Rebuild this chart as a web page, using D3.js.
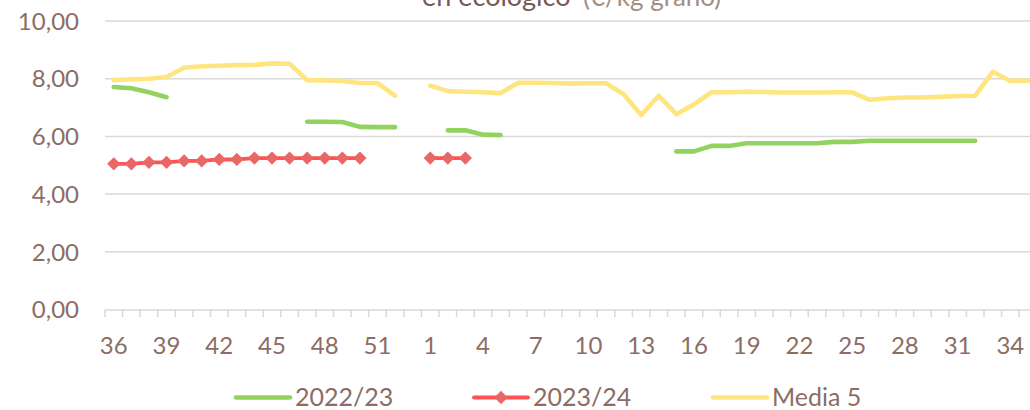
<!DOCTYPE html>
<html>
<head>
<meta charset="utf-8">
<script src="https://cdn.jsdelivr.net/npm/d3@7/dist/d3.min.js"></script>
<style>
  html, body { margin: 0; padding: 0; background: #fff; }
  svg { display: block; }
  text { font-family: Lato, "Open Sans", sans-serif; }
</style>
</head>
<body>
<svg id="chart" width="1030" height="410"></svg>
<script>
// Campaign weeks (36 → 53, then 1 → 35)
const weeks = [36,37,38,39,40,41,42,43,44,45,46,47,48,49,50,51,52,53,
  1,2,3,4,5,6,7,8,9,10,11,12,13,14,15,16,17,18,19,20,21,22,23,24,25,26,27,28,29,30,31,32,33,34,35];

// Price €/kg, one value per week; null = no quotation
const serie2223 = [7.71,7.67,7.53,7.36,null,null,null,null,null,null,null,6.51,6.51,6.50,6.33,6.32,6.32,null,
  null,6.21,6.21,6.06,6.05,null,null,null,null,null,null,null,null,null,5.48,5.48,5.67,5.67,5.76,5.76,5.76,5.76,5.76,5.81,5.81,5.85,5.85,5.85,5.85,5.85,5.85,5.85,null,null,null];

const serie2324 = [5.05,5.05,5.10,5.10,5.15,5.15,5.20,5.20,5.25,5.25,5.25,5.25,5.25,5.25,5.25,null,null,null,
  5.25,5.25,5.25,null,null,null,null,null,null,null,null,null,null,null,null,null,null,null,null,null,null,null,null,null,null,null,null,null,null,null,null,null,null,null,null];

const media5 = [7.95,7.98,8.00,8.06,8.38,8.43,8.45,8.47,8.48,8.53,8.52,7.95,7.94,7.92,7.85,7.85,7.41,null,
  7.76,7.57,7.55,7.53,7.50,7.86,7.86,7.85,7.83,7.84,7.84,7.46,6.74,7.41,6.77,7.11,7.53,7.53,7.55,7.54,7.52,7.52,7.52,7.53,7.53,7.27,7.32,7.35,7.35,7.37,7.40,7.41,8.24,7.92,7.93];

const yTicks = [0, 2, 4, 6, 8, 10];
const seriesNames = ["2022/23", "2023/24", "Media 5"];

const textColor = "#8b6d64";
const gridColor = "#d9d9d9";
const colors = { g: "#92d25e", r: "#ff5252", rMarker: "#e96767", y: "#ffe57f" };

const svg = d3.select("#chart");

const plotLeft = 105, step = 17.58;
const x = d3.scaleBand()
  .domain(d3.range(weeks.length))
  .range([plotLeft, plotLeft + step * weeks.length])
  .padding(0);
const cx = i => x(i) + x.bandwidth() / 2;

const y = d3.scaleLinear().domain([0, 10]).range([309.5, 21]);

// Title (top of the chart)
svg.append("text")
  .attr("x", 422).attr("y", 6)
  .attr("font-size", 27)
  .attr("fill", "#765a52")
  .text("en ecológico");
svg.append("text")
  .attr("x", 583).attr("y", 6)
  .attr("font-size", 26)
  .attr("fill", "#a58d85")
  .text("(€/kg grano)");

// Horizontal gridlines
svg.append("g")
  .selectAll("line")
  .data(yTicks.filter(d => d > 0))
  .join("line")
  .attr("x1", plotLeft).attr("x2", plotLeft + step * weeks.length)
  .attr("y1", d => y(d)).attr("y2", d => y(d))
  .attr("stroke", gridColor).attr("stroke-width", 1.5);

// Y axis labels
svg.append("g")
  .selectAll("text")
  .data(yTicks)
  .join("text")
  .attr("x", 79)
  .attr("y", d => y(d) + 8.7)
  .attr("text-anchor", "end")
  .attr("font-size", 24)
  .attr("fill", textColor)
  .text(d => d3.format(".2f")(d).replace(".", ","));

// X axis: baseline with a tick at every band boundary
const xAxis = d3.axisBottom(x)
  .tickValues([])
  .tickSize(0)
  .tickSizeOuter(0);
const gx = svg.append("g").attr("transform", `translate(0,${y(0)})`).call(xAxis);
gx.select(".domain").attr("stroke", gridColor).attr("stroke-width", 1.5);
gx.selectAll(".band-tick")
  .data(d3.range(weeks.length + 1))
  .join("line")
  .attr("class", "band-tick")
  .attr("x1", i => plotLeft + i * x.step())
  .attr("x2", i => plotLeft + i * x.step())
  .attr("y1", 0).attr("y2", 7.5)
  .attr("stroke", gridColor).attr("stroke-width", 1.5);

svg.append("g")
  .selectAll("text")
  .data(d3.range(0, weeks.length, 3))
  .join("text")
  .attr("x", i => cx(i))
  .attr("y", 354)
  .attr("text-anchor", "middle")
  .attr("font-size", 24)
  .attr("fill", textColor)
  .text(i => weeks[i]);

// Series lines
const line = d3.line()
  .defined(d => d != null)
  .x((d, i) => cx(i))
  .y(d => y(d));

const drawLine = (data, color, width) =>
  svg.append("path")
    .datum(data)
    .attr("d", line)
    .attr("fill", "none")
    .attr("stroke", color)
    .attr("stroke-width", width)
    .attr("stroke-linejoin", "round")
    .attr("stroke-linecap", "round");

drawLine(media5, colors.y, 4.6);
drawLine(serie2223, colors.g, 4.6);
drawLine(serie2324, colors.r, 3.8);

// Diamond markers (symbolDiamond2 is already a square standing on its corner)
const diamond = d3.symbol().type(d3.symbolDiamond2).size(112);
svg.append("g")
  .selectAll("path")
  .data(serie2324.map((v, i) => ({ v, i })).filter(d => d.v != null))
  .join("path")
  .attr("d", diamond)
  .attr("transform", d => `translate(${cx(d.i)},${y(d.v)})`)
  .attr("fill", colors.rMarker);

// Legend
const legend = [
  { name: seriesNames[0], color: colors.g, x0: 236, x1: 290, tx: 295, w: 4.6, marker: false },
  { name: seriesNames[1], color: colors.r, x0: 474, x1: 528, tx: 533, w: 3.8, marker: true },
  { name: seriesNames[2], color: colors.y, x0: 713, x1: 767, tx: 772, w: 4.6, marker: false }
];
const lg = svg.append("g");
legend.forEach(l => {
  lg.append("line")
    .attr("x1", l.x0).attr("x2", l.x1)
    .attr("y1", 397.5).attr("y2", 397.5)
    .attr("stroke", l.color).attr("stroke-width", l.w)
    .attr("stroke-linecap", "round");
  if (l.marker) {
    lg.append("path")
      .attr("d", diamond)
      .attr("transform", `translate(${(l.x0 + l.x1) / 2},397.5)`)
      .attr("fill", colors.rMarker);
  }
  lg.append("text")
    .attr("x", l.tx).attr("y", 406)
    .attr("font-size", 25)
    .attr("fill", textColor)
    .text(l.name);
});
</script>
</body>
</html>
